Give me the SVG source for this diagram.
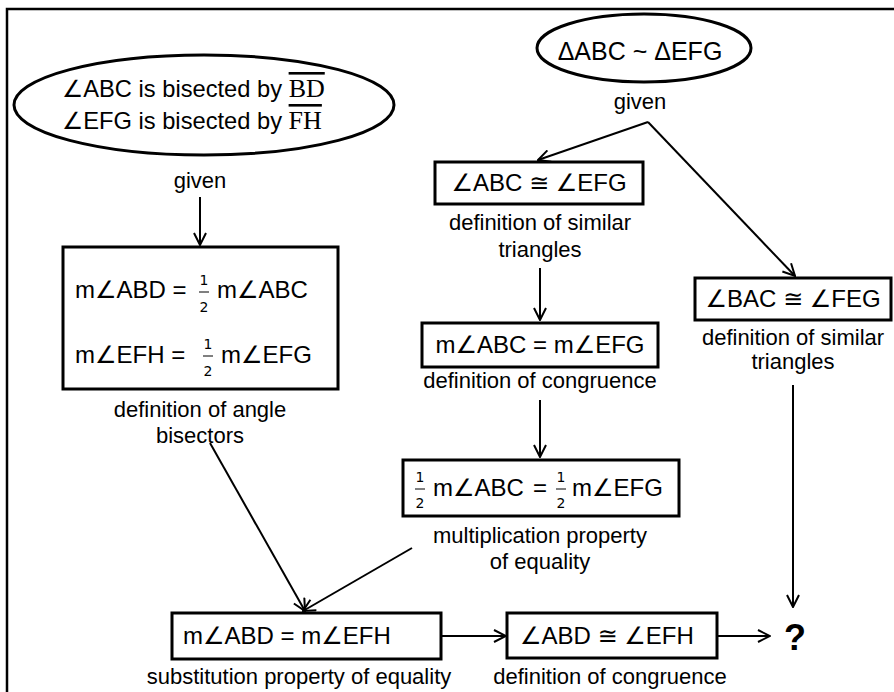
<svg xmlns="http://www.w3.org/2000/svg" width="894" height="692" viewBox="0 0 894 692">
<style>
text{font-family:"Liberation Sans","DejaVu Sans",sans-serif;fill:#000}
.t{font-size:24px}
.l{font-size:22px;text-anchor:middle}
.f{font-size:14px;text-anchor:middle;font-family:"DejaVu Sans",sans-serif}
.box{fill:#fff;stroke:#000;stroke-width:3}
.ell{fill:#fff;stroke:#000;stroke-width:3}
.c{stroke:#000;stroke-width:2;fill:none;marker-end:url(#ah)}
.bar{stroke:#000;stroke-width:1}
.ov{font-family:"Liberation Serif",serif;font-size:26px;text-decoration:overline}
</style>
<defs>
<marker id="ah" viewBox="0 0 14 14" refX="13" refY="7" markerWidth="14" markerHeight="14" markerUnits="userSpaceOnUse" orient="auto">
<path d="M1,1 L13,7 L1,13" fill="none" stroke="#000" stroke-width="2"/>
</marker>
</defs>
<rect width="894" height="692" fill="#fff"/>
<path d="M7,692 V9 H894" fill="none" stroke="#000" stroke-width="2.5"/>

<g id="connectors">
<line class="c" x1="200" y1="197" x2="200" y2="245"/>
<line class="c" x1="648" y1="122" x2="538" y2="160"/>
<line class="c" x1="648" y1="122" x2="795" y2="276"/>
<line class="c" x1="540" y1="268" x2="540" y2="320"/>
<line class="c" x1="540" y1="400" x2="540" y2="457"/>
<line class="c" x1="210" y1="443" x2="305" y2="611"/>
<line class="c" x1="412" y1="548" x2="303" y2="611"/>
<line class="c" x1="441" y1="636" x2="506" y2="636"/>
<line class="c" x1="717" y1="636" x2="770" y2="636"/>
<line class="c" x1="793" y1="385" x2="793" y2="607"/>
</g>

<g id="given1">
<ellipse class="ell" cx="204" cy="105" rx="190" ry="50"/>
<text x="62" y="97" font-size="23.7">∠ABC is bisected by <tspan class="ov">BD</tspan></text>
<text x="62" y="129" font-size="23.7">∠EFG is bisected by <tspan class="ov">FH</tspan></text>
<text class="l" x="200" y="188">given</text>
</g>

<g id="given2">
<ellipse class="ell" cx="644" cy="48" rx="107" ry="34"/>
<text x="640" y="60" font-size="25" text-anchor="middle">ΔABC ~ ΔEFG</text>
<text class="l" x="640" y="109">given</text>
</g>

<g id="bisect">
<rect class="box" x="63" y="247" width="275" height="142"/>
<text class="t" x="75" y="298">m∠ABD =</text>
<text class="f" x="204" y="285">1</text><line class="bar" x1="199" y1="292" x2="209" y2="292"/><text class="f" x="204" y="312">2</text>
<text class="t" x="217" y="298">m∠ABC</text>
<text class="t" x="75" y="363">m∠EFH =</text>
<text class="f" x="208" y="349">1</text><line class="bar" x1="203" y1="356" x2="213" y2="356"/><text class="f" x="208" y="376">2</text>
<text class="t" x="221" y="363">m∠EFG</text>
<text class="l" x="200" y="417">definition of angle</text>
<text class="l" x="200" y="443">bisectors</text>
</g>

<g id="congA">
<rect class="box" x="435" y="162" width="208" height="42"/>
<text class="t" x="539" y="191" text-anchor="middle">∠ABC ≅ ∠EFG</text>
<text class="l" x="540" y="230">definition of similar</text>
<text class="l" x="540" y="257">triangles</text>
</g>

<g id="congB">
<rect class="box" x="695" y="278" width="196" height="42"/>
<text class="t" x="793" y="307" text-anchor="middle">∠BAC ≅ ∠FEG</text>
<text class="l" x="793" y="345">definition of similar</text>
<text class="l" x="793" y="369">triangles</text>
</g>

<g id="measEq">
<rect class="box" x="422" y="323" width="236" height="44"/>
<text class="t" x="540" y="353" text-anchor="middle">m∠ABC = m∠EFG</text>
<text class="l" x="540" y="388">definition of congruence</text>
</g>

<g id="mult">
<rect class="box" x="403" y="460" width="276" height="56"/>
<text class="f" x="420" y="482">1</text><line class="bar" x1="415" y1="489" x2="425" y2="489"/><text class="f" x="420" y="508">2</text>
<text class="t" x="433" y="496">m∠ABC</text>
<text class="t" x="540" y="496" text-anchor="middle">=</text>
<text class="f" x="561" y="482">1</text><line class="bar" x1="556" y1="489" x2="566" y2="489"/><text class="f" x="561" y="508">2</text>
<text class="t" x="572" y="496">m∠EFG</text>
<text class="l" x="540" y="543">multiplication property</text>
<text class="l" x="540" y="569">of equality</text>
</g>

<g id="subst">
<rect class="box" x="172" y="613" width="269" height="46"/>
<text class="t" x="183" y="644">m∠ABD = m∠EFH</text>
<text class="l" x="299" y="684">substitution property of equality</text>
</g>

<g id="congFinal">
<rect class="box" x="507" y="613" width="210" height="45"/>
<text class="t" x="520" y="644">∠ABD ≅ ∠EFH</text>
<text class="l" x="610" y="684">definition of congruence</text>
</g>

<g id="question">
<text x="795" y="650" font-size="36" font-weight="bold" text-anchor="middle">?</text>
</g>
</svg>
